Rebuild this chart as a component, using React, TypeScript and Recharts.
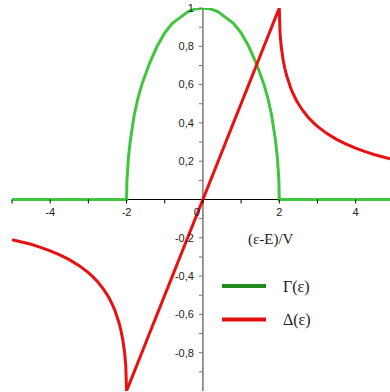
import React from "react";
import { LineChart, Line, XAxis, YAxis, ReferenceLine, Legend } from "recharts";

// Energy grid (ε-E)/V
const eps = [
  -5, -4.5, -4.25, -4, -3.75, -3.5, -3.25, -3, -2.9, -2.75, -2.6, -2.5, -2.45, -2.4, -2.35, -2.3, -2.2, -2.15, -2.1, -2.05, -2.02, -2,
  -1.99, -1.95, -1.9, -1.8, -1.7, -1.6, -1.4, -1.2, -1, -0.8, -0.6, -0.4, -0.2, 0,
  0.2, 0.4, 0.6, 0.8, 1, 1.2, 1.4, 1.6, 1.7, 1.8, 1.9, 1.95, 1.99,
  2, 2.02, 2.05, 2.1, 2.15, 2.2, 2.3, 2.35, 2.4, 2.45, 2.5, 2.6, 2.75, 2.9, 3, 3.25, 3.5, 3.75, 4, 4.25, 4.5, 4.9,
];

// Γ(ε): broadening
const gamma = [
  0, 0, 0, 0, 0, 0, 0, 0, 0, 0, 0, 0, 0, 0, 0, 0, 0, 0, 0, 0, 0, 0,
  0.1, 0.22, 0.31, 0.44, 0.53, 0.6, 0.71, 0.8, 0.87, 0.92, 0.95, 0.98, 0.995, 1,
  0.995, 0.98, 0.95, 0.92, 0.87, 0.8, 0.71, 0.6, 0.53, 0.44, 0.31, 0.22, 0.1,
  0, 0, 0, 0, 0, 0, 0, 0, 0, 0, 0, 0, 0, 0, 0, 0, 0, 0, 0, 0, 0, 0,
];

// Δ(ε): level shift
const delta = [
  -0.21, -0.234, -0.25, -0.268, -0.289, -0.314, -0.344, -0.382, -0.4, -0.431, -0.469, -0.5, -0.517, -0.537, -0.558, -0.582, -0.642, -0.681, -0.73, -0.8, -0.868, -1,
  -0.995, -0.975, -0.95, -0.9, -0.85, -0.8, -0.7, -0.6, -0.5, -0.4, -0.3, -0.2, -0.1, 0,
  0.1, 0.2, 0.3, 0.4, 0.5, 0.6, 0.7, 0.8, 0.85, 0.9, 0.95, 0.975, 0.995,
  1, 0.868, 0.8, 0.73, 0.681, 0.642, 0.582, 0.558, 0.537, 0.517, 0.5, 0.469, 0.431, 0.4, 0.382, 0.344, 0.314, 0.289, 0.268, 0.25, 0.234, 0.213,
];

const xTicks = [-5, -4, -3, -2, -1, 0, 1, 2, 3, 4];
const xTickLabels = ["", "-4", "", "-2", "", "0", "", "2", "", "4"];
const yTicks = [-0.9, -0.8, -0.7, -0.6, -0.5, -0.4, -0.3, -0.2, -0.1, 0.1, 0.2, 0.3, 0.4, 0.5, 0.6, 0.7, 0.8, 0.9, 1];
const yTickLabels = ["", "-0,8", "", "-0,6", "", "-0,4", "", "-0,2", "", "", "0,2", "", "0,4", "", "0,6", "", "0,8", "", "1"];

const seriesNames = ["Γ(ε)", "Δ(ε)"];
const curveColors = ["#3fc63f", "#e81010"];
const legendColors = ["#1f8a1f", "#e01010"];

const data = eps.map((e, i) => ({ e, gamma: gamma[i], delta: delta[i] }));

const W = 390;
const H = 392;
const MARGIN = { top: 8, right: 0, left: 0, bottom: 0 };
const Y_AXIS_W = 12;
const X_AXIS_H = 1;
const X_DOMAIN: [number, number] = [-5, 4.9];
const Y_DOMAIN: [number, number] = [-1, 1];
const PLOT_W = W - MARGIN.left - MARGIN.right - Y_AXIS_W;
const PLOT_H = H - MARGIN.top - MARGIN.bottom - X_AXIS_H;
const ZERO_FROM_BOTTOM = (PLOT_H * (0 - Y_DOMAIN[0])) / (Y_DOMAIN[1] - Y_DOMAIN[0]);
const ZERO_FROM_LEFT = (PLOT_W * (0 - X_DOMAIN[0])) / (X_DOMAIN[1] - X_DOMAIN[0]);

const TICK_FONT = "'Liberation Sans', Arial, sans-serif";
const SERIF = "'Liberation Serif', 'Times New Roman', serif";

// x ticks hang below the horizontal axis through y = 0
const XTick = (props: any) => {
  const { x, y, payload } = props;
  const zeroY = y - ZERO_FROM_BOTTOM;
  const idx = xTicks.indexOf(payload.value);
  const label = idx >= 0 ? xTickLabels[idx] : "";
  const isZero = payload.value === 0;
  return (
    <g>
      <line x1={x} x2={x} y1={zeroY} y2={zeroY + 4} stroke="#000" strokeWidth={1} />
      {label && (
        <text
          x={isZero ? x - 6 : x}
          y={zeroY + 13}
          dy="0.35em"
          textAnchor="middle"
          fontFamily={TICK_FONT}
          fontSize={11}
          fill="#222"
        >
          {label}
        </text>
      )}
    </g>
  );
};

// y ticks sit on the left of the vertical axis through x = 0
const YTick = (props: any) => {
  const { x, y, payload } = props;
  const zeroX = x + ZERO_FROM_LEFT;
  const idx = yTicks.indexOf(payload.value);
  const label = idx >= 0 ? yTickLabels[idx] : "";
  return (
    <g>
      <line x1={zeroX - 4} x2={zeroX} y1={y} y2={y} stroke="#777" strokeWidth={1} />
      {label && (
        <text
          x={zeroX - 9}
          y={y}
          dy="0.35em"
          textAnchor="end"
          fontFamily={TICK_FONT}
          fontSize={11}
          fill="#222"
        >
          {label}
        </text>
      )}
    </g>
  );
};

const AxisTitle = (props: any) => {
  const vb = props.viewBox || { x: 0, y: 0 };
  const zeroY = vb.y - ZERO_FROM_BOTTOM;
  return (
    <text
      x={vb.x + 236}
      y={zeroY + 39}
      dy="0.35em"
      fontFamily={SERIF}
      fontSize={15}
      fill="#222"
    >
      (ε-E)/V
    </text>
  );
};

const LegendBox = () => (
  <svg width={120} height={60} style={{ display: "block", overflow: "visible" }}>
    {seriesNames.map((name, i) => (
      <g key={name}>
        <line x1={0} x2={44} y1={10 + i * 33.5} y2={10 + i * 33.5} stroke={legendColors[i]} strokeWidth={4} />
        <text x={61} y={10 + i * 33.5} dy="0.35em" fontFamily={SERIF} fontSize={16} fill="#222">
          {name}
        </text>
      </g>
    ))}
  </svg>
);

export default function App() {
  return (
    <div style={{ position: "absolute", left: 0, top: 0, width: W, height: H, background: "#fff" }}>
      <LineChart width={W} height={H} data={data} margin={MARGIN}>
        <XAxis
          dataKey="e"
          type="number"
          domain={X_DOMAIN}
          ticks={xTicks}
          interval={0}
          allowDataOverflow
          axisLine={false}
          tickLine={false}
          tickSize={0}
          tickMargin={0}
          height={X_AXIS_H}
          tick={<XTick />}
          label={<AxisTitle />}
        />
        <YAxis
          type="number"
          domain={Y_DOMAIN}
          ticks={yTicks}
          interval={0}
          allowDataOverflow
          axisLine={false}
          tickLine={false}
          tickSize={0}
          tickMargin={0}
          width={Y_AXIS_W}
          tick={<YTick />}
        />
        <ReferenceLine y={0} stroke="#000" strokeWidth={1} />
        <ReferenceLine x={0} stroke="#777" strokeWidth={1.5} />
        <Line
          dataKey="gamma"
          name={seriesNames[0]}
          stroke={curveColors[0]}
          strokeWidth={3}
          dot={false}
          type="linear"
          isAnimationActive={false}
        />
        <Line
          dataKey="delta"
          name={seriesNames[1]}
          stroke={curveColors[1]}
          strokeWidth={3}
          dot={false}
          type="linear"
          isAnimationActive={false}
        />
        <Legend
          content={<LegendBox />}
          wrapperStyle={{
            position: "absolute",
            left: 222,
            top: 276,
            width: 0,
            height: 0,
            bottom: "auto",
            overflow: "visible",
          }}
        />
      </LineChart>
    </div>
  );
}
